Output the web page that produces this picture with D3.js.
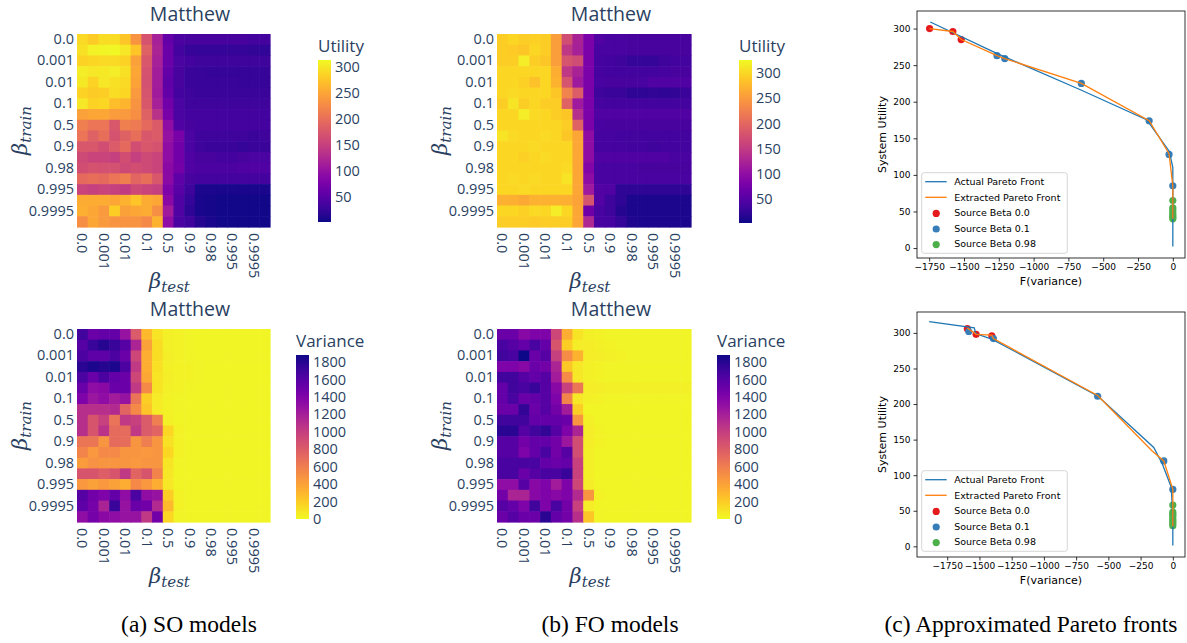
<!DOCTYPE html>
<html>
<head>
<meta charset="utf-8">
<script src="https://cdn.jsdelivr.net/npm/d3@7"></script>
<style>
  body { margin: 0; background: #fff; }
  svg { display: block; }
</style>
</head>
<body>
<svg id="fig" width="1187" height="643"></svg>
<script>
/* ---------------- data ---------------- */

// beta categories (rows = train, columns = test); only every other one is labelled
const betas = ["0.0", "0.0001", "0.001", "0.005", "0.01", "0.05", "0.1", "0.2", "0.5",
               "0.8", "0.9", "0.95", "0.98", "0.99", "0.995", "0.999", "0.9995", "0.9999"];

const utilityTicks = [50, 100, 150, 200, 250, 300];
const varianceTicks = [0, 200, 400, 600, 800, 1000, 1200, 1400, 1600, 1800];

// colour ranges
const soUtilityRange = [2, 313];
const foUtilityRange = [3, 326];
const varianceRange = [0, 1880];

const soUtility = [
  [290,280,292,292,275,235,170,115,60,42,38,38,38,38,38,38,36,36],
  [295,308,310,311,300,275,185,120,65,35,26,25,25,25,24,24,23,22],
  [285,288,290,290,285,245,175,115,65,40,35,32,30,30,30,30,30,30],
  [305,300,302,305,295,250,170,112,60,38,28,27,26,26,26,26,26,26],
  [302,285,300,295,290,248,168,112,55,38,28,27,27,27,27,26,26,26],
  [285,280,282,292,288,240,172,110,60,35,30,28,28,28,28,28,28,28],
  [300,285,288,270,262,235,175,115,70,40,32,32,32,32,32,32,32,32],
  [245,250,250,242,240,230,185,135,75,40,35,35,35,34,34,34,34,34],
  [215,205,205,175,215,210,195,180,95,45,38,36,36,36,36,36,36,36],
  [205,185,200,170,185,200,175,180,100,75,40,30,30,30,30,30,28,30],
  [175,175,165,180,195,165,175,170,95,70,40,30,28,28,28,25,28,28],
  [160,155,155,150,165,150,160,155,95,70,45,38,38,36,36,38,40,40],
  [165,170,168,168,160,165,160,155,90,72,45,42,42,42,42,44,45,45],
  [195,200,195,205,215,190,200,175,90,55,38,35,35,35,35,35,35,35],
  [155,150,155,150,145,160,155,150,80,50,30,10,9,8,8,8,8,8],
  [255,255,255,250,260,275,255,250,90,45,25,8,6,5,5,5,5,5],
  [258,250,240,282,245,250,255,230,110,45,20,8,6,5,5,5,5,5],
  [230,250,240,235,235,235,225,260,95,40,30,15,8,5,5,5,5,5]
];

const soVariance = [
  [1690,1500,1540,1540,1280,810,280,95,40,30,25,20,20,20,20,20,20,20],
  [1600,1730,1800,1730,1600,1165,410,130,40,30,25,20,20,20,20,20,20,20],
  [1640,1560,1560,1640,1500,940,340,130,45,35,25,20,20,20,20,20,20,20],
  [1790,1840,1805,1840,1640,1030,340,110,40,35,30,25,20,20,20,20,20,20],
  [1650,1500,1640,1540,1500,940,380,95,45,35,30,25,20,20,20,20,20,20],
  [1500,1320,1350,1500,1500,1030,530,95,40,30,25,20,20,20,20,20,20,20],
  [1410,1260,1320,1220,1280,660,190,60,35,25,20,20,20,20,20,20,20,20],
  [1090,1090,1090,1130,750,530,230,60,30,25,20,20,20,20,20,20,20,20],
  [1090,850,980,660,1030,980,810,600,40,20,20,20,20,20,20,20,20,20],
  [1090,850,1070,710,710,1030,810,750,150,30,20,20,20,20,20,20,20,20],
  [640,640,470,710,700,470,600,470,110,30,20,20,20,20,20,20,20,20],
  [560,450,530,530,470,470,450,470,150,30,20,20,20,20,20,20,20,20],
  [430,490,470,470,470,450,470,470,95,25,20,20,20,20,20,20,20,20],
  [850,850,790,850,1030,750,850,560,75,20,20,20,20,20,20,20,20,20],
  [450,410,450,410,340,530,450,340,75,20,20,20,20,20,20,20,20,20],
  [1600,1470,1410,1540,1320,1650,1320,1280,190,30,20,20,20,20,20,20,20,20],
  [1560,1450,1170,1730,1280,1500,1470,1130,280,30,20,20,20,20,20,20,20,20],
  [1320,1450,1350,1320,1280,1280,1030,1470,150,25,20,20,20,20,20,20,20,20]
];

const foUtility = [
  [293,300,293,295,293,254,172,124,82,46,42,42,40,40,40,40,40,40],
  [293,290,287,300,293,254,147,121,82,42,42,42,40,40,40,40,40,40],
  [293,293,316,293,287,254,179,170,82,39,36,33,26,26,26,33,36,36],
  [300,300,300,300,300,267,147,124,82,39,36,36,36,36,36,39,40,40],
  [300,300,295,284,300,271,179,114,82,42,40,40,40,42,46,46,46,46],
  [300,303,300,300,300,287,228,189,82,33,30,30,23,23,25,23,25,30],
  [293,310,293,300,293,293,196,114,82,39,38,38,38,38,36,36,36,36],
  [300,300,316,303,300,293,287,137,82,46,46,46,46,46,46,46,46,46],
  [300,300,300,300,300,300,293,196,82,42,40,40,40,40,40,40,40,40],
  [310,303,300,300,303,300,287,261,98,39,39,36,36,36,36,36,36,36],
  [300,300,300,303,300,300,300,261,98,39,39,39,36,36,33,36,36,36],
  [300,300,295,300,303,300,300,261,98,46,46,46,46,46,46,46,42,42],
  [300,300,300,300,300,300,303,261,88,42,42,42,42,40,40,40,40,40],
  [300,303,300,303,300,300,310,261,98,42,42,42,42,42,42,42,42,42],
  [300,300,303,300,300,300,300,261,114,49,46,23,23,23,23,23,23,23],
  [270,268,262,270,270,270,268,258,179,49,33,23,10,10,10,10,10,10],
  [300,300,295,303,300,316,300,261,72,42,33,16,10,10,10,10,10,10],
  [293,293,293,290,293,293,293,261,130,42,39,26,12,10,10,10,10,10]
];

const foVariance = [
  [1504,1504,1354,1410,1410,940,338,94,38,30,25,25,25,25,25,25,25,25],
  [1654,1598,1542,1654,1542,846,188,56,56,40,30,25,25,25,25,25,25,25],
  [1692,1654,1880,1504,1598,990,526,320,56,45,40,35,25,25,25,25,25,25],
  [1410,1410,1354,1504,1466,1166,226,75,40,30,25,25,25,25,25,25,25,25],
  [1692,1692,1598,1542,1598,1222,526,75,38,30,25,25,25,25,25,25,25,25],
  [1542,1692,1654,1730,1598,1354,978,640,56,45,40,40,40,40,40,40,40,40],
  [1542,1654,1504,1542,1598,1410,564,75,38,30,25,25,25,25,25,25,25,25],
  [1504,1504,1748,1504,1598,1466,1222,188,20,15,15,15,15,15,15,15,15,15],
  [1692,1692,1692,1542,1542,1542,1504,470,38,20,15,15,15,15,15,15,15,15],
  [1786,1786,1598,1692,1748,1598,1410,1166,56,30,15,15,15,15,15,15,15,15],
  [1598,1598,1466,1542,1542,1466,1260,900,56,30,15,15,15,15,15,15,15,15],
  [1598,1598,1410,1542,1654,1466,1598,902,40,20,15,15,15,15,15,15,15,15],
  [1654,1654,1654,1654,1542,1504,1542,978,38,20,15,15,15,15,15,15,15,15],
  [1654,1654,1504,1598,1654,1654,1730,978,40,20,15,15,15,15,15,15,15,15],
  [1316,1316,1598,1354,1410,1222,1410,940,56,20,15,15,15,15,15,15,15,15],
  [1466,1166,1166,1354,1410,1354,1410,1128,470,30,15,15,15,15,15,15,15,15],
  [1598,1542,1410,1692,1410,1654,1466,978,56,20,15,15,15,15,15,15,15,15],
  [1504,1598,1504,1504,1786,1542,1466,1090,226,25,15,15,15,15,15,15,15,15]
];

// Pareto fronts: [F(variance), system utility]
const topActual = [[-1742,309],[-1265,266],[-660,216],[-185,175],[-25,132],[0,110],[0,2]];
const topExtracted = [[-1747,300],[-1580,296],[-1519,285],[-1263,263],[-1207,259],[-657,225],[-170,174],[-27,129],[0,85],[0,40]];
const topBeta0 = [[-1747,300],[-1580,296],[-1520,285]];
const topBeta01 = [[-1263,263],[-1207,259],[-657,225],[-170,174],[-27,128],[0,85]];
const topBeta098 = [[0,65],[0,55],[0,52],[0,48],[0,45],[0,42],[0,40]];

const botActual = [[-1890,316],[-1540,307],[-1530,299],[-1400,291],[-580,211],[-148,139],[-82,116],[-12,83],[0,40],[0,1]];
const botExtracted = [[-1594,307],[-1526,298],[-1404,297],[-1392,292],[-583,212],[-160,134],[-70,120],[0,80],[0,28]];
const botBeta0 = [[-1594,306],[-1526,298],[-1404,296]];
const botBeta01 = [[-1583,302],[-1392,292],[-583,211],[-70,120],[0,80]];
const botBeta098 = [[0,58],[0,48],[0,45],[0,42],[0,38],[0,35],[0,32],[0,29]];

const paretoXTicks = [-1750, -1500, -1250, -1000, -750, -500, -250, 0];
const paretoYTicks = [0, 50, 100, 150, 200, 250, 300];

/* ---------------- setup ---------------- */

const svg = d3.select("#fig");
const plotlyFont = "'Open Sans', verdana, arial, sans-serif";
const plotlyInk = "#2a3f5f";
const mplFont = "'DejaVu Sans', sans-serif";
const plain = d3.format("");   // no thousands separator, unicode minus

const legendColors = { actual: "#1f77b4", extracted: "#ff7f0e",
                       b0: "#e41a1c", b01: "#377eb8", b098: "#4daf4a" };

let gradId = 0;

// beta with an italic subscript, roughly like the MathJax labels
function betaLabel(g, sub) {
    const t = g.append("text")
        .attr("text-anchor", "middle")
        .attr("fill", plotlyInk)
        .style("font-family", "'DejaVu Serif', serif")
        .style("font-style", "italic");
    t.append("tspan").attr("font-size", 21).text("β");
    t.append("tspan").attr("font-size", 15).attr("dy", 4).text(sub);
    return t;
}

/**
 * Plotly style heatmap with its colour bar
 */
function heatmap(cfg) {
    const g = svg.append("g");
    const x = d3.scaleBand().domain(betas).range([cfg.x0, cfg.x1]);
    const y = d3.scaleBand().domain(betas).range([cfg.y0, cfg.y1]);
    const color = d3.scaleSequential(d3.interpolatePlasma)
        .domain(cfg.reverse ? [cfg.range[1], cfg.range[0]] : cfg.range);

    const cells = [];
    cfg.values.forEach((row, i) => row.forEach((v, j) => cells.push({ r: betas[i], c: betas[j], v })));

    g.append("g").selectAll("rect")
        .data(cells)
        .join("rect")
            .attr("x", d => x(d.c))
            .attr("y", d => y(d.r))
            .attr("width", x.bandwidth() + 0.6)
            .attr("height", y.bandwidth() + 0.6)
            .attr("fill", d => color(d.v));

    const shown = betas.filter((_, i) => i % 2 === 0);

    // x axis (rotated labels)
    const xAxis = g.append("g")
        .attr("transform", `translate(0, ${cfg.y1})`)
        .call(d3.axisBottom(x).tickValues(shown).tickSize(0));
    xAxis.select(".domain").remove();
    xAxis.selectAll("text")
        .attr("transform", "rotate(90)")
        .attr("text-anchor", "start")
        .attr("x", 6)
        .attr("y", 0)
        .attr("dy", "0.35em");

    // y axis
    const yAxis = g.append("g")
        .attr("transform", `translate(${cfg.x0}, 0)`)
        .call(d3.axisLeft(y).tickValues(shown).tickSize(0).tickPadding(3));
    yAxis.select(".domain").remove();

    g.selectAll(".tick text")
        .attr("fill", plotlyInk)
        .style("font-family", plotlyFont)
        .style("font-size", "14.5px");

    // title
    g.append("text")
        .attr("x", cfg.titleX)
        .attr("y", cfg.y0 - 13)
        .attr("text-anchor", "middle")
        .attr("fill", plotlyInk)
        .style("font-family", plotlyFont)
        .style("font-size", "19.5px")
        .text("Matthew");

    // axis titles
    betaLabel(g, "train")
        .attr("transform", `translate(${cfg.x0 - 50}, ${(cfg.y0 + cfg.y1) / 2}) rotate(-90)`);
    betaLabel(g, "test")
        .attr("transform", `translate(${(cfg.x0 + cfg.x1) / 2 - 4}, ${cfg.y1 + 61})`);

    // colour bar
    const id = "grad" + (gradId++);
    const grad = svg.append("defs").append("linearGradient")
        .attr("id", id).attr("x1", 0).attr("y1", 1).attr("x2", 0).attr("y2", 0);
    d3.range(0, 1.0001, 0.05).forEach(t => {
        const v = cfg.range[0] + t * (cfg.range[1] - cfg.range[0]);
        grad.append("stop").attr("offset", t).attr("stop-color", color(v));
    });
    const cb = cfg.colorbar;
    g.append("rect")
        .attr("x", cb.x).attr("y", cb.y0)
        .attr("width", 13).attr("height", cb.y1 - cb.y0)
        .attr("fill", `url(#${id})`);
    const cScale = d3.scaleLinear().domain(cfg.range).range([cb.y1, cb.y0]);
    const cAxis = g.append("g")
        .attr("transform", `translate(${cb.x + 13}, 0)`)
        .call(d3.axisRight(cScale).tickValues(cfg.ticks).tickFormat(plain).tickSize(0).tickPadding(4));
    cAxis.select(".domain").remove();
    cAxis.selectAll("text")
        .attr("fill", plotlyInk)
        .style("font-family", plotlyFont)
        .style("font-size", "14.5px");
    g.append("text")
        .attr("x", cb.x)
        .attr("y", cb.y0 - 8)
        .attr("fill", plotlyInk)
        .style("font-family", plotlyFont)
        .style("font-size", "17px")
        .text(cfg.cbTitle);
}

heatmap({ x0: 77, x1: 270, y0: 34, y1: 227, values: soUtility, range: soUtilityRange,
          reverse: false, titleX: 190, ticks: utilityTicks, cbTitle: "Utility",
          colorbar: { x: 318, y0: 60, y1: 222 } });
heatmap({ x0: 77, x1: 270, y0: 329, y1: 522, values: soVariance, range: varianceRange,
          reverse: true, titleX: 190, ticks: varianceTicks, cbTitle: "Variance",
          colorbar: { x: 296, y0: 355, y1: 519 } });
heatmap({ x0: 497, x1: 691, y0: 34, y1: 227, values: foUtility, range: foUtilityRange,
          reverse: false, titleX: 611, ticks: utilityTicks, cbTitle: "Utility",
          colorbar: { x: 739, y0: 60, y1: 223 } });
heatmap({ x0: 497, x1: 691, y0: 329, y1: 522, values: foVariance, range: varianceRange,
          reverse: true, titleX: 611, ticks: varianceTicks, cbTitle: "Variance",
          colorbar: { x: 717, y0: 355, y1: 519 } });

/**
 * Matplotlib style Pareto front plot
 */
function paretoPlot(cfg) {
    const g = svg.append("g");
    const x = d3.scaleLinear().domain(cfg.xlim).range([cfg.left, cfg.right]);
    const y = d3.scaleLinear().domain(cfg.ylim).range([cfg.bottom, cfg.top]);

    const xAxis = g.append("g")
        .attr("transform", `translate(0, ${cfg.bottom})`)
        .call(d3.axisBottom(x).tickValues(paretoXTicks).tickFormat(plain)
                .tickSize(3.5).tickPadding(2.5).tickSizeOuter(0));
    const yAxis = g.append("g")
        .attr("transform", `translate(${cfg.left}, 0)`)
        .call(d3.axisLeft(y).tickValues(paretoYTicks).tickFormat(plain)
                .tickSize(3.5).tickPadding(3).tickSizeOuter(0));
    [xAxis, yAxis].forEach(a => {
        a.select(".domain").remove();
        a.selectAll("line").attr("stroke", "#000").attr("stroke-width", 0.8);
        a.selectAll("text").attr("fill", "#000").style("font-family", mplFont).style("font-size", "9px");
    });

    // scatter first: matplotlib draws collections below lines
    const groups = [[cfg.b0, legendColors.b0], [cfg.b01, legendColors.b01], [cfg.b098, legendColors.b098]];
    groups.forEach(([pts, col]) => {
        g.append("g").selectAll("circle")
            .data(pts)
            .join("circle")
                .attr("cx", d => x(d[0]))
                .attr("cy", d => y(d[1]))
                .attr("r", 3.6)
                .attr("fill", col);
    });

    const line = d3.line().x(d => x(d[0])).y(d => y(d[1]));
    g.append("path").datum(cfg.actual).attr("d", line)
        .attr("fill", "none").attr("stroke", legendColors.actual).attr("stroke-width", 1.3);
    g.append("path").datum(cfg.extracted).attr("d", line)
        .attr("fill", "none").attr("stroke", legendColors.extracted).attr("stroke-width", 1.3);

    // spines
    g.append("rect")
        .attr("x", cfg.left).attr("y", cfg.top)
        .attr("width", cfg.right - cfg.left).attr("height", cfg.bottom - cfg.top)
        .attr("fill", "none").attr("stroke", "#000").attr("stroke-width", 0.8);

    // axis labels
    g.append("text")
        .attr("x", (cfg.left + cfg.right) / 2)
        .attr("y", cfg.bottom + 27)
        .attr("text-anchor", "middle")
        .style("font-family", mplFont).style("font-size", "11px")
        .text("F(variance)");
    g.append("text")
        .attr("transform", `translate(${cfg.left - 31}, ${(cfg.top + cfg.bottom) / 2}) rotate(-90)`)
        .attr("text-anchor", "middle")
        .style("font-family", mplFont).style("font-size", "11px")
        .text("System Utility");

    // legend
    const lg = g.append("g").attr("transform", `translate(${cfg.left + 4.7}, ${cfg.legendTop})`);
    lg.append("rect")
        .attr("width", 145.6).attr("height", 80.6).attr("rx", 2.5)
        .attr("fill", "#fff").attr("fill-opacity", 0.8)
        .attr("stroke", "#cccccc").attr("stroke-width", 0.8);
    const entries = [
        { label: "Actual Pareto Front", color: legendColors.actual, kind: "line" },
        { label: "Extracted Pareto Front", color: legendColors.extracted, kind: "line" },
        { label: "Source Beta 0.0", color: legendColors.b0, kind: "dot" },
        { label: "Source Beta 0.1", color: legendColors.b01, kind: "dot" },
        { label: "Source Beta 0.98", color: legendColors.b098, kind: "dot" }
    ];
    entries.forEach((e, i) => {
        const cy = 9 + i * 15.6;
        if (e.kind === "line") {
            lg.append("line").attr("x1", 3.5).attr("x2", 25).attr("y1", cy).attr("y2", cy)
                .attr("stroke", e.color).attr("stroke-width", 1.3);
        } else {
            lg.append("circle").attr("cx", 14.5).attr("cy", cy + 0.5).attr("r", 3.6).attr("fill", e.color);
        }
        lg.append("text")
            .attr("x", 32.5).attr("y", cy).attr("dy", "0.35em")
            .style("font-family", mplFont).style("font-size", "9.5px")
            .text(e.label);
    });
}

paretoPlot({ left: 917, right: 1185, top: 11, bottom: 258,
             xlim: [-1837.5, 87.5], ylim: [-13.6, 324],
             actual: topActual, extracted: topExtracted,
             b0: topBeta0, b01: topBeta01, b098: topBeta098, legendTop: 172.7 });
paretoPlot({ left: 917, right: 1185, top: 312, bottom: 557,
             xlim: [-1984.5, 94.5], ylim: [-15, 329.4],
             actual: botActual, extracted: botExtracted,
             b0: botBeta0, b01: botBeta01, b098: botBeta098, legendTop: 470.7 });

/* ---------------- captions ---------------- */
const captions = [
    { text: "(a) SO models", x: 189 },
    { text: "(b) FO models", x: 610 },
    { text: "(c) Approximated Pareto fronts", x: 1031 }
];
svg.append("g").selectAll("text")
    .data(captions)
    .join("text")
        .attr("x", d => d.x)
        .attr("y", 632)
        .attr("text-anchor", "middle")
        .style("font-family", "'Liberation Serif', serif")
        .style("font-size", "23.5px")
        .text(d => d.text);
</script>
</body>
</html>
